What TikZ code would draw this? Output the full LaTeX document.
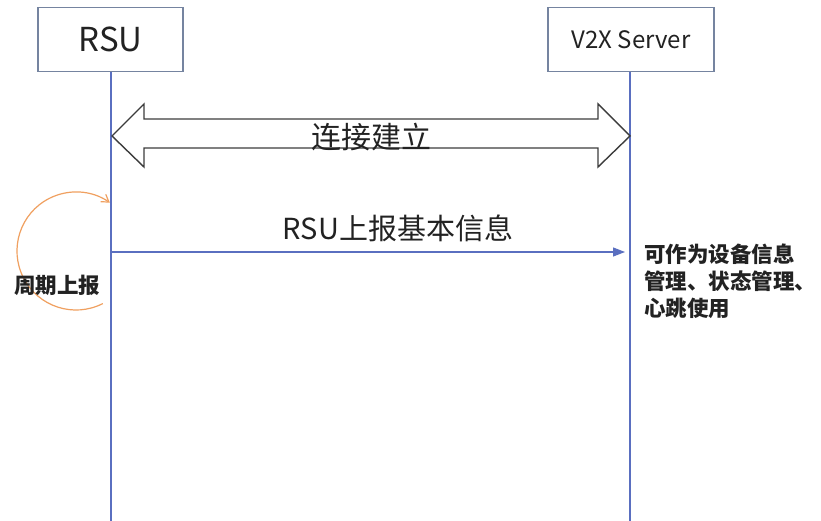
\documentclass[tikz,border=0pt]{standalone}
\usepackage{fontspec}
\newfontfamily\cjk{Noto Sans CJK SC}
\usetikzlibrary{arrows.meta,calc}
\definecolor{lifeblue}{HTML}{5A6FC0}
\definecolor{boxedge}{HTML}{7584A0}
\definecolor{blockedge}{HTML}{3C3C3C}
\definecolor{loopor}{HTML}{F0A060}
\definecolor{ink}{HTML}{222222}
\tikzset{
  actor/.style={draw=boxedge, line width=1.1pt, fill=white, text=ink, inner sep=0pt},
  lifeline/.style={draw=lifeblue, line width=1.1pt},
  msg/.style={draw=lifeblue, line width=1.1pt, -{Triangle[length=12pt,width=9pt]}},
  lbl/.style={text=ink, inner sep=0pt},
  note/.style={text=ink, inner sep=0pt, font=\cjk\fontsize{21.5}{27}\selectfont\bfseries, align=left},
}
\begin{document}
\begin{tikzpicture}[x=1pt,y=-1pt]
\useasboundingbox[fill=white] (0,0) rectangle (821,521);

% participants
\node[actor, minimum width=145pt, minimum height=64pt, font=\cjk\fontsize{33}{36}\selectfont] (rsu) at (110.5,39.5) {RSU};
\node[actor, minimum width=166pt, minimum height=64pt, font=\cjk\fontsize{24}{28}\selectfont] (srv) at (631,39.5) {V2X Server};

% lifelines
\coordinate (rsuEnd) at (111,521);
\coordinate (srvEnd) at (630,521);
\draw[lifeline] (rsu.south -| rsuEnd) -- (rsuEnd);
\draw[lifeline] (srv.south -| srvEnd) -- (srvEnd);

% connection set-up: two-headed block arrow
\draw[draw=blockedge, line width=1.4pt, fill=white, line join=miter]
  (112,136) -- (144,104) -- (144,119) -- (598,119) -- (598,104) -- (630,136)
  -- (598,167) -- (598,148) -- (144,148) -- (144,167) -- cycle;
\node[lbl, font=\cjk\fontsize{30}{33}\selectfont] (conn) at (371,137) {连接建立};

% periodic report message
\coordinate (msgStart) at (111,252);
\coordinate (msgEnd) at (625,252);
\draw[msg] (msgStart) -- (msgEnd);
\node[lbl, font=\cjk\fontsize{29}{33}\selectfont] (msglbl) at (398,228) {RSU上报基本信息};

% self loop on the RSU side
\coordinate (loopc) at (76,251);
\draw[draw=loopor, line width=1.2pt, -{Straight Barb[length=7pt,width=9pt]}]
  ($(loopc)+(63:59)$) arc[start angle=63, end angle=305, radius=59];
\node[note] (period) at (57,285) {周期上报};

% note next to the server lifeline
\node[note, anchor=west] (usage) at (644,281) {可作为设备信息\\管理、状态管理、\\心跳使用};
\end{tikzpicture}
\end{document}
